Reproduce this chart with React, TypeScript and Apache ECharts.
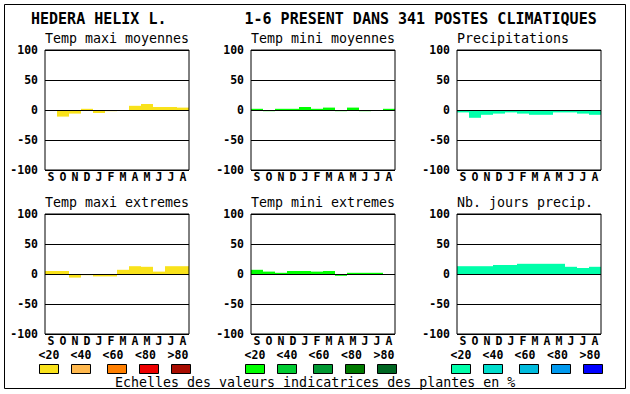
import React, { useEffect, useRef } from "react";
import * as echarts from "echarts";

const months = ["S", "O", "N", "D", "J", "F", "M", "A", "M", "J", "J", "A"];
const yTicks = { min: -100, max: 100, interval: 50 };

const panelTitles = [
  "Temp maxi moyennes",
  "Temp mini moyennes",
  "Precipitations",
  "Temp maxi extremes",
  "Temp mini extremes",
  "Nb. jours precip.",
];

const tempMaxiMoyennes = [0, -11, -6, 2, -5, -2, 0, 7, 10, 5, 5, 4];
const tempMiniMoyennes = [2, -2, 2, 2, 5, 2, 4, -2, 4, -2, 0, 2];
const precipitations = [-4, -13, -8, -6, -4, -6, -8, -8, -4, -4, -6, -8];
const tempMaxiExtremes = [5, 5, -6, -2, -4, -4, 7, 13, 12, 4, 13, 13];
const tempMiniExtremes = [7, 4, 2, 5, 5, 4, 5, -3, 2, 2, 2, 0];
const nbJoursPrecip = [13, 13, 13, 15, 15, 17, 17, 17, 17, 12, 10, 12];

const legendLabels = ["<20", "<40", "<60", "<80", ">80"];
const yellowScale = ["#F9E21B", "#FFB84D", "#FF7F00", "#EE0000", "#A80C00"];
const greenScale = ["#00FF00", "#00CC33", "#009933", "#007A00", "#006622"];
const blueScale = ["#00FFAA", "#00DDCC", "#00BBDD", "#0099EE", "#0000FF"];

const mainTitle = "HEDERA HELIX L.";
const subTitle = "1-6 PRESENT DANS 341 POSTES CLIMATIQUES";
const footer = "Echelles des valeurs indicatrices des plantes en %";

const seriesValues = [
  tempMaxiMoyennes,
  tempMiniMoyennes,
  precipitations,
  tempMaxiExtremes,
  tempMiniExtremes,
  nbJoursPrecip,
];
const seriesColors = [
  yellowScale[0],
  greenScale[0],
  blueScale[0],
  yellowScale[0],
  greenScale[0],
  blueScale[0],
];

const MONO = "DejaVu Sans Mono";

export default function App() {
  const ref = useRef<HTMLDivElement>(null);

  useEffect(() => {
    if (!ref.current) return;
    const chart = echarts.init(ref.current, undefined, { renderer: "svg" });

    const lefts = [45, 251, 457];
    const tops = [50, 214];
    const W = 144;
    const H = 120;

    const grids: any[] = [];
    const xAxes: any[] = [];
    const yAxes: any[] = [];
    const series: any[] = [];
    const graphic: any[] = [];

    for (let i = 0; i < 6; i++) {
      const col = i % 3;
      const row = Math.floor(i / 3);
      grids.push({
        left: lefts[col],
        top: tops[row],
        width: W,
        height: H,
        show: true,
        borderColor: "#000",
        borderWidth: 1,
        backgroundColor: "transparent",
        z: 5,
      });
      xAxes.push({
        type: "category",
        gridIndex: i,
        data: months,
        axisLine: { show: false },
        axisTick: { show: false },
        splitLine: { show: false },
        axisLabel: {
          interval: 0,
          margin: 1,
          color: "#000",
          fontFamily: MONO,
          fontWeight: "bold",
          fontSize: 11.5,
        },
      });
      yAxes.push({
        type: "value",
        gridIndex: i,
        min: yTicks.min,
        max: yTicks.max,
        interval: yTicks.interval,
        z: 4,
        axisLine: { show: false },
        axisTick: { show: false },
        splitLine: { show: true, lineStyle: { color: "#000", width: 1 } },
        axisLabel: {
          margin: 7,
          color: "#000",
          fontFamily: MONO,
          fontWeight: "bold",
          fontSize: 11.5,
        },
      });
      series.push({
        type: "bar",
        xAxisIndex: i,
        yAxisIndex: i,
        data: seriesValues[i],
        barWidth: "100%",
        barCategoryGap: 0,
        itemStyle: { color: seriesColors[i] },
        silent: true,
      });
      graphic.push({
        type: "text",
        x: lefts[col],
        y: row === 0 ? 38.5 : 202.5,
        style: {
          text: panelTitles[i],
          fill: "#000",
          font: `13.3px "${MONO}"`,
          align: "left",
          verticalAlign: "middle",
        },
      });
    }

    // legends
    const scales = [yellowScale, greenScale, blueScale];
    const swatchOffsets = [-6, 26, 62, 94, 126];
    const labelOffsets = [4, 36, 68, 100.5, 133];
    for (let c = 0; c < 3; c++) {
      for (let k = 0; k < 5; k++) {
        graphic.push({
          type: "rect",
          shape: { x: lefts[c] + swatchOffsets[k] + 0.5, y: 364.5, width: 19, height: 9 },
          style: { fill: scales[c][k], stroke: "#000", lineWidth: 1 },
        });
        graphic.push({
          type: "text",
          x: lefts[c] + labelOffsets[k],
          y: 354.5,
          style: {
            text: legendLabels[k],
            fill: "#000",
            font: `bold 11.5px "${MONO}"`,
            align: "center",
            verticalAlign: "middle",
          },
        });
      }
    }

    graphic.push({
      type: "text",
      x: 31,
      y: 18.5,
      style: {
        text: mainTitle,
        fill: "#000",
        font: `bold 15px "${MONO}"`,
        align: "left",
        verticalAlign: "middle",
      },
    });
    graphic.push({
      type: "text",
      x: 244.5,
      y: 18.5,
      style: {
        text: subTitle,
        fill: "#000",
        font: `bold 15px "${MONO}"`,
        align: "left",
        verticalAlign: "middle",
      },
    });
    graphic.push({
      type: "text",
      x: 115,
      y: 382,
      style: {
        text: footer,
        fill: "#000",
        font: `13.3px "${MONO}"`,
        align: "left",
        verticalAlign: "middle",
      },
    });
    graphic.push({
      type: "rect",
      shape: { x: 4.5, y: 4.5, width: 621, height: 384 },
      style: { fill: "none", stroke: "#000", lineWidth: 1 },
      z: 10,
    });

    chart.setOption({
      animation: false,
      backgroundColor: "#fff",
      grid: grids,
      xAxis: xAxes,
      yAxis: yAxes,
      series,
      graphic: { elements: graphic },
    });

    return () => chart.dispose();
  }, []);

  return (
    <div
      ref={ref}
      style={{ position: "fixed", left: 0, top: 0, width: 630, height: 394, background: "#fff" }}
    />
  );
}
